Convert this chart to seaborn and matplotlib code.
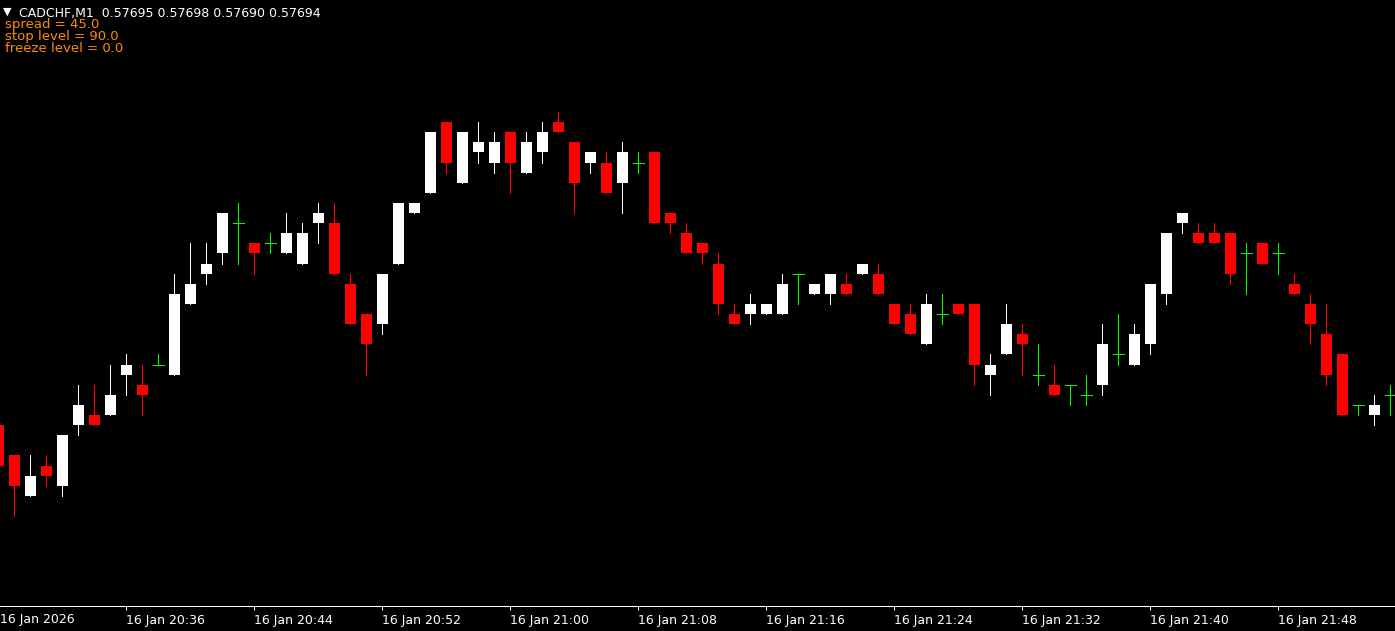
import pandas as pd
import matplotlib
matplotlib.use("Agg")
import matplotlib.pyplot as plt
import seaborn as sns

# M1 bars, 16 Jan 2026 20:28 .. 21:55
times = pd.date_range("2026-01-16 20:28", periods=88, freq="min")

opens = [0.57686, 0.57677, 0.57665, 0.57674, 0.57668, 0.57686, 0.57689, 0.57689, 0.57701, 0.57698,
         0.57704, 0.57701, 0.57722, 0.57731, 0.57737, 0.57746, 0.57740, 0.57740, 0.57737, 0.57734,
         0.57746, 0.57746, 0.57728, 0.57719, 0.57716, 0.57734, 0.57749, 0.57755, 0.57776, 0.57758,
         0.57767, 0.57764, 0.57773, 0.57761, 0.57767, 0.57776, 0.57770, 0.57764, 0.57764, 0.57758,
         0.57764, 0.57767, 0.57749, 0.57743, 0.57740, 0.57734, 0.57719, 0.57719, 0.57719, 0.57719,
         0.57731, 0.57725, 0.57725, 0.57728, 0.57731, 0.57731, 0.57722, 0.57719, 0.57710, 0.57719,
         0.57722, 0.57722, 0.57701, 0.57707, 0.57713, 0.57701, 0.57698, 0.57698, 0.57695, 0.57698,
         0.57707, 0.57704, 0.57710, 0.57725, 0.57746, 0.57743, 0.57743, 0.57743, 0.57737, 0.57740,
         0.57737, 0.57728, 0.57722, 0.57713, 0.57707, 0.57692, 0.57689, 0.57695]
highs = [0.57686, 0.57677, 0.57677, 0.57677, 0.57683, 0.57698, 0.57698, 0.57704, 0.57707, 0.57704,
         0.57707, 0.57731, 0.57740, 0.57740, 0.57749, 0.57752, 0.57740, 0.57743, 0.57749, 0.57746,
         0.57752, 0.57752, 0.57731, 0.57719, 0.57731, 0.57752, 0.57752, 0.57773, 0.57776, 0.57773,
         0.57776, 0.57773, 0.57773, 0.57773, 0.57776, 0.57779, 0.57770, 0.57767, 0.57767, 0.57770,
         0.57767, 0.57767, 0.57749, 0.57746, 0.57740, 0.57737, 0.57722, 0.57725, 0.57722, 0.57731,
         0.57731, 0.57728, 0.57731, 0.57731, 0.57734, 0.57734, 0.57722, 0.57722, 0.57725, 0.57725,
         0.57722, 0.57722, 0.57707, 0.57722, 0.57716, 0.57710, 0.57704, 0.57698, 0.57701, 0.57716,
         0.57719, 0.57716, 0.57728, 0.57743, 0.57749, 0.57746, 0.57746, 0.57743, 0.57740, 0.57740,
         0.57740, 0.57731, 0.57725, 0.57722, 0.57707, 0.57692, 0.57695, 0.57698]
lows = [0.57674, 0.57659, 0.57665, 0.57668, 0.57665, 0.57683, 0.57686, 0.57689, 0.57695, 0.57689,
        0.57704, 0.57701, 0.57722, 0.57728, 0.57734, 0.57734, 0.57731, 0.57737, 0.57737, 0.57734,
        0.57740, 0.57731, 0.57716, 0.57701, 0.57713, 0.57734, 0.57749, 0.57755, 0.57761, 0.57758,
        0.57764, 0.57761, 0.57755, 0.57761, 0.57764, 0.57773, 0.57749, 0.57761, 0.57755, 0.57749,
        0.57761, 0.57746, 0.57743, 0.57737, 0.57734, 0.57719, 0.57716, 0.57716, 0.57719, 0.57719,
        0.57722, 0.57725, 0.57722, 0.57725, 0.57731, 0.57725, 0.57716, 0.57713, 0.57710, 0.57716,
        0.57719, 0.57698, 0.57695, 0.57707, 0.57701, 0.57698, 0.57695, 0.57692, 0.57692, 0.57695,
        0.57704, 0.57704, 0.57707, 0.57722, 0.57743, 0.57740, 0.57740, 0.57728, 0.57725, 0.57734,
        0.57731, 0.57725, 0.57710, 0.57698, 0.57689, 0.57689, 0.57686, 0.57689]
closes = [0.57674, 0.57668, 0.57671, 0.57671, 0.57683, 0.57692, 0.57686, 0.57695, 0.57704, 0.57695,
          0.57704, 0.57725, 0.57728, 0.57734, 0.57749, 0.57746, 0.57737, 0.57740, 0.57743, 0.57743,
          0.57749, 0.57731, 0.57716, 0.57710, 0.57731, 0.57752, 0.57752, 0.57773, 0.57764, 0.57773,
          0.57770, 0.57770, 0.57764, 0.57770, 0.57773, 0.57773, 0.57758, 0.57767, 0.57755, 0.57767,
          0.57764, 0.57746, 0.57746, 0.57737, 0.57737, 0.57722, 0.57716, 0.57722, 0.57722, 0.57728,
          0.57731, 0.57728, 0.57731, 0.57725, 0.57734, 0.57725, 0.57716, 0.57713, 0.57722, 0.57719,
          0.57719, 0.57704, 0.57704, 0.57716, 0.57710, 0.57701, 0.57695, 0.57698, 0.57695, 0.57710,
          0.57707, 0.57713, 0.57728, 0.57743, 0.57749, 0.57740, 0.57740, 0.57731, 0.57737, 0.57734,
          0.57737, 0.57725, 0.57716, 0.57701, 0.57689, 0.57692, 0.57692, 0.57695]

tick_pos = [8, 16, 24, 32, 40, 48, 56, 64, 72, 80]
tick_labels = ["16 Jan 20:36", "16 Jan 20:44", "16 Jan 20:52", "16 Jan 21:00", "16 Jan 21:08",
               "16 Jan 21:16", "16 Jan 21:24", "16 Jan 21:32", "16 Jan 21:40", "16 Jan 21:48"]
header = "CADCHF,M1  0.57695 0.57698 0.57690 0.57694"
info_lines = ["spread = 45.0", "stop level = 90.0", "freeze level = 0.0"]

df = pd.DataFrame({"time": times, "open": opens, "high": highs, "low": lows, "close": closes})
df["i"] = range(len(df))

sns.set_theme(style="dark", rc={"axes.facecolor": "black", "figure.facecolor": "black",
                                "axes.grid": False})
plt.rcParams["font.family"] = ["DejaVu Sans"]

W, H = 1395, 631
fig = plt.figure(figsize=(W / 100, H / 100), dpi=100)
ax = fig.add_axes([0, 25 / H, 1, 606 / H])

up = df[df.close > df.open]
down = df[df.close < df.open]
doji = df[df.close == df.open]

# one pixel wide lines
px = 0.72
wick_col = ["white" if c > o else ("red" if c < o else "#00ff00")
            for o, c in zip(df.open, df.close)]
ax.vlines(df.i, df.low, df.high, colors=wick_col, lw=px, antialiased=False)
bw = 0.69
ax.bar(up.i, up.close - up.open, bottom=up.open, width=bw, color="white", lw=0, antialiased=False)
ax.bar(down.i, down.open - down.close, bottom=down.close, width=bw, color="red", lw=0, antialiased=False)
ax.hlines(doji.open, doji.i - bw / 2, doji.i + bw / 2, colors="#00ff00", lw=px, antialiased=False)

ax.set_xlim(0.106, 87.29)
ax.set_ylim(0.5763227, 0.5781227)

ax.set_yticks([])
ax.set_xticks(tick_pos)
ax.set_xticklabels(tick_labels, ha="left", color="white", fontsize=9)
ax.tick_params(axis="x", direction="out", length=3, width=px, color="white", pad=2.5,
               bottom=True)
for s in ["top", "left", "right"]:
    ax.spines[s].set_visible(False)
ax.spines["bottom"].set_color("white")
ax.spines["bottom"].set_linewidth(px)

# first-bar date at the left edge, aligned with the tick labels
fig.text(0, 1 - 612.5 / H, "16 Jan 2026", color="white", fontsize=9, va="top")

# header info
fig.text(3 / W, 1 - 15 / H, "▼", color="white", fontsize=8, va="baseline")
fig.text(19 / W, 1 - 17 / H, header, color="white", fontsize=9, va="baseline")
for k, line in enumerate(info_lines):
    fig.text(5 / W, 1 - (28 + 12 * k) / H, line, color="#ff8c00", fontsize=9.5, va="baseline")

fig.savefig("out.png", dpi=100, facecolor="black")
